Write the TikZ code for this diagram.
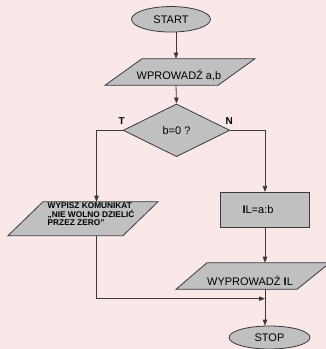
\documentclass[tikz,border=0pt]{standalone}
\usepackage{fontspec}
\setmainfont{Liberation Sans}
\usetikzlibrary{shapes.geometric,arrows.meta}
\definecolor{bg}{HTML}{FAE8E9}
\definecolor{shapefill}{HTML}{C0C0C0}
\definecolor{edge}{HTML}{3A3A3A}
\tikzset{
  box/.style={draw=edge, line width=0.8pt, fill=shapefill},
  term/.style={box, ellipse, inner sep=0pt, font=\fontsize{11}{13}\selectfont},
  flow/.style={draw=edge, line width=0.8pt, -{Triangle[length=6pt,width=4.5pt]}},
  lbl/.style={font=\bfseries\fontsize{10}{12}\selectfont, inner sep=0pt},
  txt/.style={font=\fontsize{11}{13}\selectfont, inner sep=0pt, anchor=base},
}
\begin{document}
\begin{tikzpicture}[x=1pt,y=-1pt]
\clip (0,0) rectangle (326,349);
\fill[bg] (0,0) rectangle (326,349);
% START
\node[term, minimum width=79pt, minimum height=25.5pt] (start) at (171,19.3) {START};
% input
\coordinate (p1n) at (176,58.7);
\coordinate (p1s) at (176,85.3);
\draw[box] (142,58.7) -- (255,58.7) -- (218,85.3) -- (105,85.3) -- cycle;
\node[txt] (p1t) at (179,79) {WPROWADŹ a,b};
% decision
\node[box, diamond, minimum width=106.7pt, minimum height=52.7pt, inner sep=0pt,
      font=\fontsize{11}{13}\selectfont] (dec) at (176.5,130.3) {b=0 ?};
\node[lbl] (tl) at (121.7,121) {T};
\node[lbl] (nl) at (229.3,121) {N};
% left output (message)
\coordinate (p2n) at (96.5,201.7);
\coordinate (p2s) at (96.5,235.7);
\draw[box] (43,201.7) -- (158,201.7) -- (123,235.7) -- (8,235.7) -- cycle;
\node[anchor=north west, inner sep=0pt, align=left,
      font=\bfseries\fontsize{8.3}{8.3}\selectfont] (msg) at (47.5,202.8)
  {WYPISZ KOMUNIKAT\\„NIE WOLNO DZIELIĆ\\PRZEZ ZERO”};
% process
\node[box, rectangle, minimum width=88.6pt, minimum height=35pt, inner sep=0pt,
      font=\fontsize{11}{13}\selectfont] (calc) at (265,209.8)
  {\textbf{I}L=a:b\hspace*{14pt}};
% output
\coordinate (p3n) at (265,262.7);
\coordinate (p3s) at (265,289.3);
\draw[box] (207,262.7) -- (330,262.7) -- (297,289.3) -- (176,289.3) -- cycle;
\node[txt] (p3t) at (250,285) {WYPROWADŹ \textbf{I}L};
% STOP
\node[term, minimum width=81pt, minimum height=23pt] (stop) at (269.5,337.5) {STOP};
\coordinate (join) at (265,298.7);
% connectors
\draw[flow] (start.south -| p1n) -- (p1n);
\draw[flow] (p1s) -- (dec.north);
\draw[flow] (dec.west) -| (p2n);
\draw[flow] (dec.east) -| (calc.north);
\draw[flow] (calc.south) -- (p3n);
\draw[flow] (p2s) |- (join);
\draw[flow] (p3s) -- (p3s |- stop.north);
\end{tikzpicture}
\end{document}
